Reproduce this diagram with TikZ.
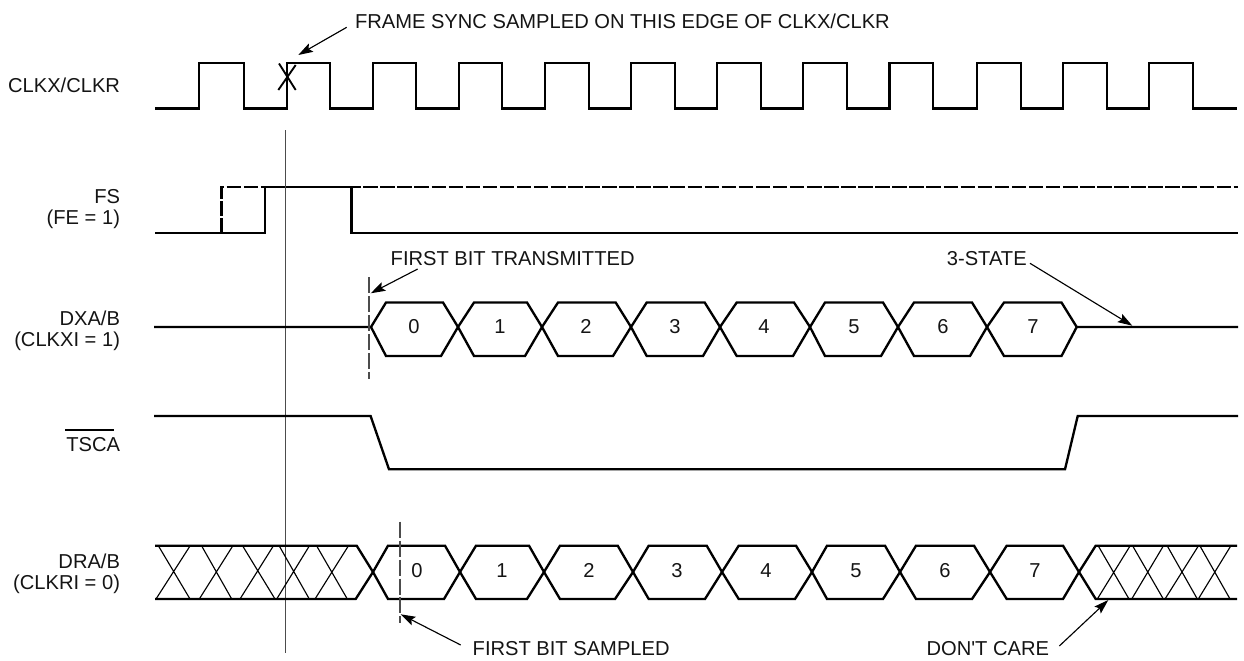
\documentclass[tikz,border=0pt]{standalone}
\usepackage{fontspec}
\setmainfont{Liberation Sans}
\usetikzlibrary{arrows.meta}
\tikzset{
  x=0.75pt,y=-0.75pt,
  sig/.style={line width=1.75pt,black,miter limit=10},
  hatch/.style={line width=0.85pt,black},
  guide/.style={line width=1.1pt,black!70},
  dashguide/.style={line width=1.1pt,black!70,dash pattern=on 12pt off 2.2pt},
  fsdash/.style={line width=1.75pt,black,dash pattern=on 10.9pt off 1.9pt},
  note/.style={line width=0.85pt,black,-{Stealth[length=11pt,width=7pt,inset=2pt]}},
  txt/.style={inner sep=0pt,outer sep=0pt,font=\fontsize{15.1}{18}\selectfont,text=black!92},
}
\begin{document}
\begin{tikzpicture}
\useasboundingbox (0,0) rectangle (1244,660);
% signal labels
\node[txt,anchor=base east] (lclk) at (120,92) {CLKX/CLKR};
\node[txt,anchor=base east] (lfs) at (120,203) {FS};
\node[txt,anchor=base east] (lfe) at (120,224) {(FE = 1)};
\node[txt,anchor=base east] (ldx) at (120,325) {DXA/B};
\node[txt,anchor=base east] (lcx) at (120,346) {(CLKXI = 1)};
\node[txt,anchor=base east] (lts) at (120,451) {TSCA};
\node[txt,anchor=base east] (ldr) at (120,568) {DRA/B};
\node[txt,anchor=base east] (lcr) at (120,589) {(CLKRI = 0)};
\coordinate (ovA) at (65,430); \coordinate (ovB) at (114,430);
\draw[line width=0.85pt] (ovA) -- (ovB);
% clock
\draw[sig] (155,108.5) -- (199,108.5) -- (199,63) -- (243.7,63) -- (243.7,108.5)
 -- (286.7,108.5) -- (286.7,63) -- (330,63) -- (330,108.5)
 -- (372.7,108.5) -- (372.7,63) -- (416,63) -- (416,108.5)
 -- (459,108.5) -- (459,63) -- (502,63) -- (502,108.5)
 -- (545,108.5) -- (545,63) -- (588.7,63) -- (588.7,108.5)
 -- (631,108.5) -- (631,63) -- (675,63) -- (675,108.5)
 -- (717.3,108.5) -- (717.3,63) -- (761,63) -- (761,108.5)
 -- (803.3,108.5) -- (803.3,63) -- (847,63) -- (847,108.5)
 -- (889.6,108.5) -- (889.6,63) -- (933.3,63) -- (933.3,108.5)
 -- (976.7,108.5) -- (976.7,63) -- (1020.7,63) -- (1020.7,108.5)
 -- (1063,108.5) -- (1063,63) -- (1107,63) -- (1107,108.5)
 -- (1149,108.5) -- (1149,63) -- (1193,63) -- (1193,108.5) -- (1237,108.5);
% sample mark
\draw[line width=1.4pt] (278.3,90) -- (295.7,65);
\draw[line width=1.4pt] (279,63.5) -- (295.7,90);
% FS
\draw[fsdash] (221.5,233) -- (221.5,187) -- (1238,187);
\draw[sig] (155,233) -- (265,233) -- (265,187) -- (351.5,187) -- (351.5,233) -- (1238,233);
% vertical guide
\coordinate (gT) at (285.7,130); \coordinate (gB) at (285.7,653);
\draw[guide] (gT) -- (gB);
% DXA/B
\draw[sig] (154,327) -- (371,327)
 -- (386,302.5) -- (443,302.5) -- (458,327) -- (474,356) -- (525,356) -- (542,327)
 -- (558,302.5) -- (615.7,302.5) -- (631,327) -- (646.7,356) -- (703,356) -- (720,327)
 -- (736.7,302.5) -- (794,302.5) -- (810,327) -- (825,356) -- (881,356) -- (898,327)
 -- (914,302.5) -- (972,302.5) -- (987,327) -- (1004,356) -- (1061.5,356) -- (1076.7,327) -- (1238,327);
\draw[sig] (371,327) -- (386,356) -- (441,356) -- (458,327) -- (474,302.5) -- (527,302.5) -- (542,327)
 -- (558,356) -- (613,356) -- (631,327) -- (646.7,302.5) -- (704.7,302.5) -- (720,327)
 -- (736.7,356) -- (793,356) -- (810,327) -- (825,302.5) -- (883,302.5) -- (898,327)
 -- (914,356) -- (970,356) -- (987,327) -- (1004,302.5) -- (1061.5,302.5) -- (1076.7,327);
\node[txt,anchor=base] (a0) at (414,333) {0};
\node[txt,anchor=base] (a1) at (500,333) {1};
\node[txt,anchor=base] (a2) at (586,333) {2};
\node[txt,anchor=base] (a3) at (675,333) {3};
\node[txt,anchor=base] (a4) at (764,333) {4};
\node[txt,anchor=base] (a5) at (854,333) {5};
\node[txt,anchor=base] (a6) at (943,333) {6};
\node[txt,anchor=base] (a7) at (1033,333) {7};
% TSCA
\draw[sig] (154,416) -- (370.6,416) -- (389,469.3) -- (1065,469.3) -- (1077.7,416) -- (1238,416);
% DRA/B
\draw[sig] (155,545.7) -- (356.7,545.7) -- (373,572)
 -- (388,599) -- (444,599) -- (460,572) -- (476,545.7) -- (529,545.7) -- (544,572)
 -- (560,599) -- (615,599) -- (633,572) -- (648.7,545.7) -- (706.7,545.7) -- (722,572)
 -- (738.7,599) -- (795,599) -- (812,572) -- (827,545.7) -- (885,545.7) -- (900,572)
 -- (916,599) -- (972,599) -- (990,572) -- (1006.7,545.7) -- (1063,545.7) -- (1079,572)
 -- (1095.7,599) -- (1237,599);
\draw[sig] (155,599) -- (355.7,599) -- (373,572)
 -- (388,545.7) -- (445,545.7) -- (460,572) -- (476,599) -- (527,599) -- (544,572)
 -- (560,545.7) -- (617.7,545.7) -- (633,572) -- (648.7,599) -- (705,599) -- (722,572)
 -- (738.7,545.7) -- (796,545.7) -- (812,572) -- (827,599) -- (883,599) -- (900,572)
 -- (916,545.7) -- (974,545.7) -- (990,572) -- (1006.7,599) -- (1063,599) -- (1079,572)
 -- (1095.7,545.7) -- (1237,545.7);
\node[txt,anchor=base] (b0) at (417,577.5) {0};
\node[txt,anchor=base] (b1) at (502,577.5) {1};
\node[txt,anchor=base] (b2) at (589,577.5) {2};
\node[txt,anchor=base] (b3) at (677,577.5) {3};
\node[txt,anchor=base] (b4) at (766,577.5) {4};
\node[txt,anchor=base] (b5) at (856,577.5) {5};
\node[txt,anchor=base] (b6) at (945,577.5) {6};
\node[txt,anchor=base] (b7) at (1035,577.5) {7};
% hatch left
\draw[hatch] (158.5,546) -- (190,599) (190,546) -- (156,599);
\draw[hatch] (201.7,546) -- (231.7,599) (232.7,546) -- (199.3,599);
\draw[hatch] (242.7,546) -- (275,599) (273.3,546) -- (240,599);
\draw[hatch] (279.3,546) -- (309.3,599) (309.3,546) -- (276.7,599);
\draw[hatch] (316.7,546) -- (347.3,599) (348.3,546) -- (315,599);
% hatch right
\draw[hatch] (1098.3,546) -- (1129,599) (1130,546) -- (1097.3,599);
\draw[hatch] (1132.7,546) -- (1163.3,599) (1163.3,546) -- (1131.7,599);
\draw[hatch] (1167.3,546) -- (1197.3,599) (1198.3,546) -- (1165,599);
\draw[hatch] (1200,546) -- (1230,599) (1230.7,546) -- (1198.3,599);
% dashed guides
\coordinate (d1T) at (369,277.3); \coordinate (d1B) at (369,379.3);
\coordinate (d2T) at (400,521.7); \coordinate (d2B) at (400,623.3);
\draw[dashguide] (d1T) -- (d1B);
\draw[dashguide] (d2T) -- (d2B);
% annotations
\node[txt,anchor=base west] (tframe) at (355,29) {FRAME SYNC SAMPLED ON THIS EDGE OF CLKX/CLKR};
\node[txt,anchor=base west] (tfirst) at (390.7,265) {FIRST BIT TRANSMITTED};
\node[txt,anchor=base east] (tstate) at (1026.7,265) {3-STATE};
\node[txt,anchor=base west] (tsamp) at (472.7,655.7) {FIRST BIT SAMPLED};
\node[txt,anchor=base east] (tcare) at (1049,655.7) {DON\textquotesingle T CARE};
\coordinate (n1s) at (346.7,27.3); \coordinate (n1t) at (298.3,55);
\coordinate (n2s) at (417.7,269); \coordinate (n2t) at (370.7,293.3);
\coordinate (n3s) at (1030,263.3); \coordinate (n3t) at (1132.3,325.7);
\coordinate (n4s) at (460.7,645); \coordinate (n4t) at (400.7,614.3);
\coordinate (n5s) at (1059.3,646); \coordinate (n5t) at (1108.3,600);
\draw[note] (n1s) -- (n1t);
\draw[note] (n2s) -- (n2t);
\draw[note] (n3s) -- (n3t);
\draw[note] (n4s) -- (n4t);
\draw[note] (n5s) -- (n5t);
\end{tikzpicture}
\end{document}
